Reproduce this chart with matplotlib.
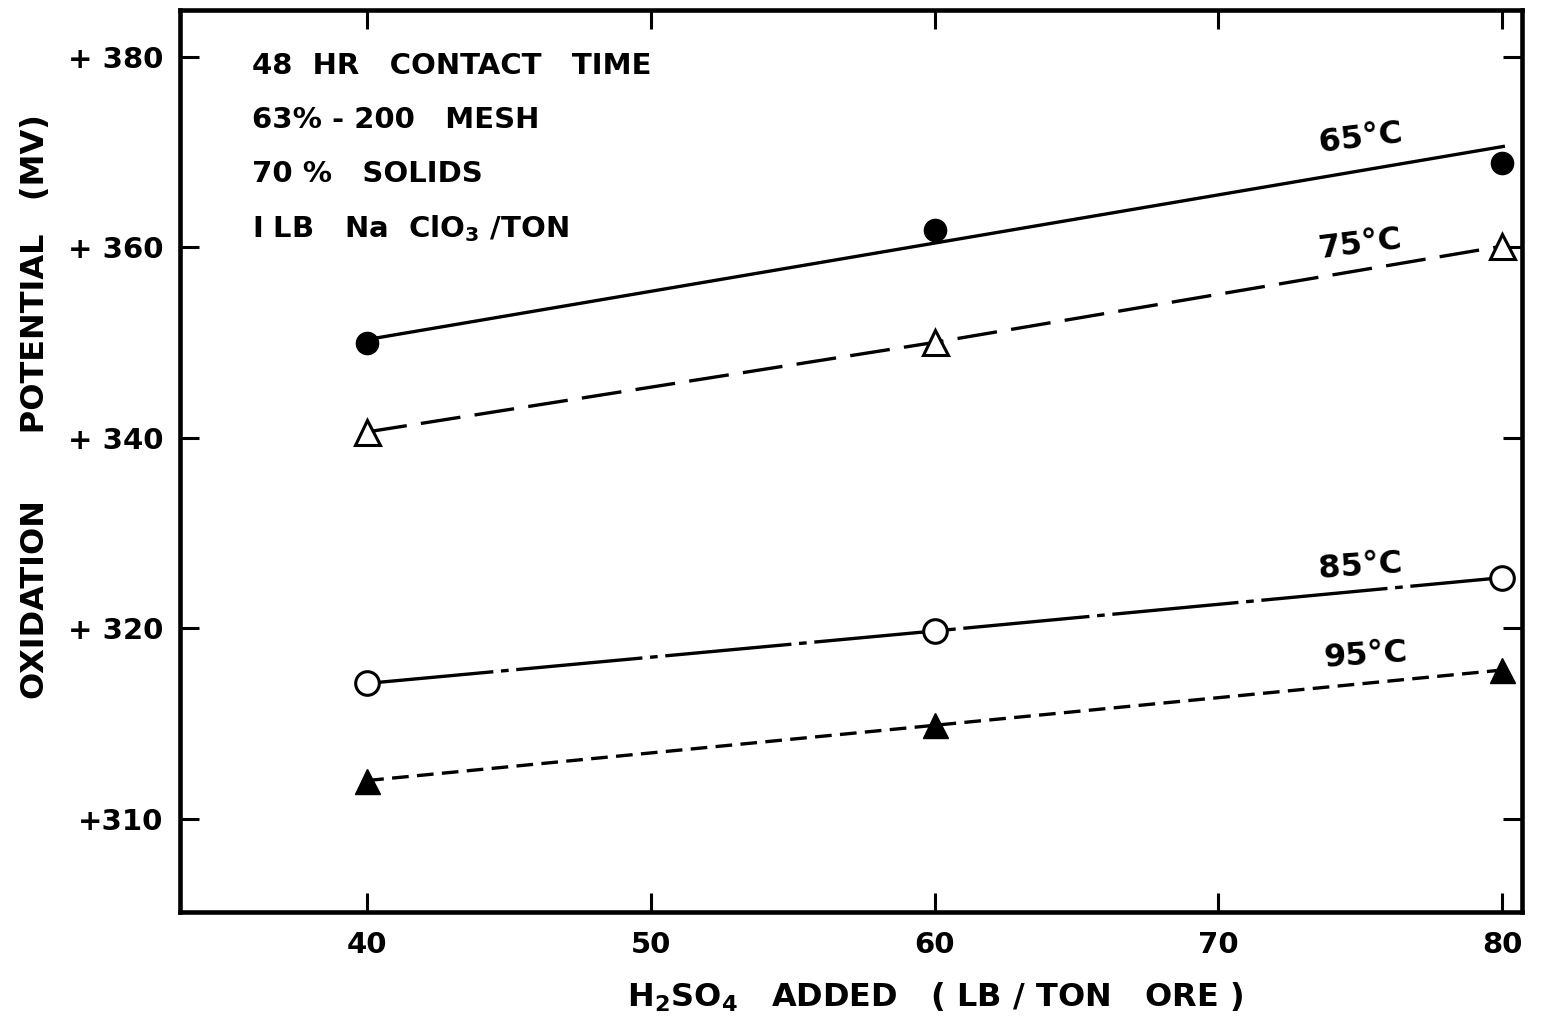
import matplotlib
matplotlib.use("Agg")
import matplotlib.pyplot as plt

# acid added (lb / ton ore)
acid = [40, 60, 80]

# oxidation potential (mv)
pot_65 = [349.9, 361.8, 368.8]
pot_75 = [340.6, 350.0, 360.1]
pot_85 = [314.2, 319.7, 325.3]
pot_95 = [304.0, 309.8, 315.6]

# the 65 C line is a fitted line, not point to point
fit_x = [40, 80.1]
fit_65 = [350.3, 370.6]

yticks = [300, 320, 340, 360, 380]
ytick_labels = ["+310", "+ 320", "+ 340", "+ 360", "+ 380"]
xticks = [40, 50, 60, 70, 80]

notes = ["48  HR   CONTACT   TIME", "63% - 200   MESH", "70 %   SOLIDS",
         "I LB   Na  ClO$_3$ /TON"]

plt.rcParams['font.family'] = ['DejaVu Sans']
plt.rcParams['font.weight'] = 'bold'
plt.rcParams['axes.labelweight'] = 'bold'
plt.rcParams['mathtext.fontset'] = 'custom'
plt.rcParams['mathtext.rm'] = 'DejaVu Sans:bold'
plt.rcParams['mathtext.it'] = 'DejaVu Sans:bold'
plt.rcParams['mathtext.bf'] = 'DejaVu Sans:bold'
plt.rcParams['mathtext.default'] = 'rm'

fig = plt.figure(figsize=(15.42, 10.27), dpi=100)
ax = fig.add_axes([0.1167, 0.112, 0.8703, 0.8783])

lw = 2.4
# 65 C
ax.plot(fit_x, fit_65, color="black", lw=lw, solid_capstyle="butt", zorder=2)
ax.plot(acid, pot_65, "o", color="black", ms=16, zorder=3)
# 75 C
ax.plot(acid, pot_75, color="black", lw=lw, dashes=(12, 4.3), zorder=2)
ax.plot(acid, pot_75, "^", mfc="white", mec="black", mew=2.2, ms=18, zorder=3)
# 85 C
ax.plot(acid, pot_85, color="black", lw=lw, dashes=(38, 2.3, 2.3, 2.3), zorder=2)
ax.plot(acid, pot_85, "o", mfc="white", mec="black", mew=2.2, ms=17, zorder=3)
# 95 C
ax.plot(acid, pot_95, color="black", lw=lw, dashes=(5, 2.5), zorder=2)
ax.plot(acid, pot_95, "^", color="black", ms=18, zorder=3)

# curve labels
ax.text(75.0, 371.4, "65°C", fontsize=23, rotation=7, ha="center", va="center")
ax.text(75.0, 360.3, "75°C", fontsize=23, rotation=7, ha="center", va="center")
ax.text(75.0, 326.5, "85°C", fontsize=23, rotation=4, ha="center", va="center")
ax.text(75.2, 317.1, "95°C", fontsize=23, rotation=4, ha="center", va="center")

for i, line in enumerate(notes):
    ax.text(0.054, 0.938 - i * 0.06, line, transform=ax.transAxes,
            fontsize=21, ha="left", va="center")

ax.set_xlim(33.4, 80.7)
ax.set_ylim(290.2, 384.9)
ax.set_xticks(xticks)
ax.set_yticks(yticks)
ax.set_yticklabels(ytick_labels)

for s in ax.spines.values():
    s.set_linewidth(3.3)
ax.tick_params(direction="in", length=14, width=2.2, top=True, right=True,
               labelsize=21)
ax.tick_params(axis="x", pad=14)
ax.tick_params(axis="y", pad=12)

ax.set_xlabel("H$_2$SO$_4$   ADDED   ( LB / TON   ORE )", fontsize=23)
ax.xaxis.set_label_coords(0.563, -0.076)
fig.text(0.023, 0.604, "OXIDATION      POTENTIAL   (MV)", rotation=90,
         fontsize=23, ha="center", va="center")

plt.savefig("out.png", dpi=100)
